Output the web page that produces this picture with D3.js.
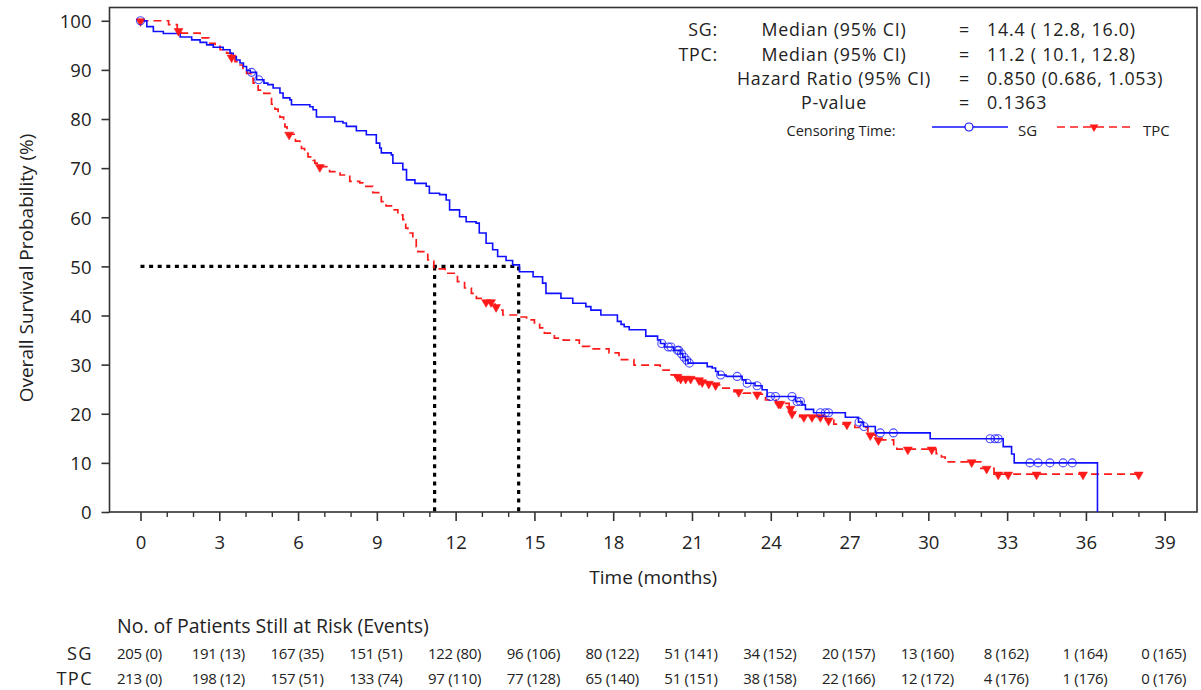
<!DOCTYPE html>
<html>
<head>
<meta charset="utf-8">
<script src="https://cdn.jsdelivr.net/npm/d3@7"></script>
<style>
  html, body { margin: 0; padding: 0; background: #fff; }
  svg { display: block; font-family: "Open Sans", "Noto Sans", sans-serif; }
</style>
</head>
<body>
<svg id="chart" width="1201" height="690"></svg>
<script>
// ---------------- DATA ----------------
const sgTime = [0, 0.24, 0.49, 0.87, 1.51, 1.95, 2.27, 2.52, 2.77, 3.15, 3.41, 3.53, 3.65, 3.79, 3.92, 4.04, 4.18, 4.42, 4.7, 4.85,
  5.05, 5.31, 5.43, 5.69, 5.75, 6.45, 6.57, 6.7, 7.4, 7.71, 7.84, 8.22, 8.6, 8.98, 9.11, 9.17, 9.55, 9.61, 9.99, 10.13,
  10.45, 10.88, 11.0, 11.39, 11.64, 11.77, 12.15, 12.4, 12.78, 12.9, 13.16, 13.41, 13.6, 13.92, 14.17, 14.43, 14.95, 15.31, 15.44, 16.01,
  16.46, 16.96, 17.15, 17.53, 18.16, 18.3, 18.42, 18.61, 19.24, 19.69, 19.8, 19.95, 20.3, 20.55, 20.65, 20.75, 20.85, 21.58, 21.77, 21.9,
  22.0, 22.3, 22.91, 23.05, 23.4, 23.67, 23.86, 24.94, 25.19, 25.32, 25.63, 26.84, 27.34, 27.53, 27.98, 30.07, 32.85, 33.17, 33.27, 36.44];
const sgSurv = [100, 98.8, 97.8, 97.4, 96.7, 96.1, 95.6, 95.1, 94.6, 94.1, 93.4, 92.7, 92.0, 91.4, 90.7, 89.9, 89.5, 88.0, 87.3, 87.0,
  86.3, 85.3, 84.3, 83.9, 82.9, 82.5, 81.9, 80.4, 79.5, 79.2, 78.5, 77.6, 76.8, 75.1, 74.1, 73.1, 72.7, 71.0, 69.7, 67.6,
  66.9, 66.3, 64.9, 64.6, 63.5, 61.5, 60.1, 59.1, 58.8, 56.8, 54.7, 53.4, 52.0, 51.2, 50.3, 48.9, 47.9, 46.6, 44.5, 43.5,
  42.5, 41.8, 41.1, 40.1, 38.8, 38.2, 37.7, 37.1, 35.8, 35.0, 34.3, 33.6, 32.9, 32.2, 31.5, 30.9, 30.3, 29.6, 29.3, 28.6,
  27.9, 27.6, 26.9, 26.2, 25.7, 24.9, 23.5, 22.5, 21.8, 20.9, 20.2, 19.3, 18.3, 17.4, 16.1, 14.9, 13.3, 11.8, 10.0, 0];
const sgCensor = [0, 4.23, 4.5, 19.85, 20.1, 20.2, 20.45, 20.5, 20.6, 20.7, 20.8, 20.9, 22.09, 22.72, 23.1, 23.48, 23.99, 24.18, 24.81,
  25.0, 25.13, 25.89, 26.08, 26.2, 27.36, 27.55, 28.17, 28.67, 32.35, 32.54, 32.66, 33.87, 34.18, 34.63, 35.13, 35.48];

const tpcTime = [0, 1.07, 1.4, 1.55, 2.27, 2.6, 2.84, 3.03, 3.28, 3.45, 3.6, 3.72, 3.9, 4.04, 4.2, 4.29, 4.48, 4.7, 4.99, 5.12,
  5.24, 5.31, 5.45, 5.5, 5.58, 5.64, 5.9, 6.07, 6.13, 6.25, 6.38, 6.57, 6.64, 6.8, 7.2, 7.6, 7.97, 8.35, 8.47, 8.85,
  9.17, 9.35, 9.61, 9.8, 9.99, 10.1, 10.18, 10.37, 10.5, 10.56, 10.94, 11.17, 11.6, 12.07, 12.34, 12.6, 12.79, 13.1, 13.5, 13.6,
  13.8, 14.43, 14.7, 15.0, 15.2, 15.38, 15.76, 16.1, 16.71, 17.1, 17.84, 18.22, 18.79, 19.79, 20.13, 20.35, 20.5, 21.2, 21.35, 21.6,
  21.85, 22.05, 22.6, 22.95, 23.4, 23.8, 24.2, 24.7, 24.8, 25.1, 26.1, 26.4, 27.2, 27.7, 28.0, 28.68, 28.8, 30.3, 30.5, 30.64,
  32.0, 32.5, 38.01];
const tpcSurv = [100, 99.2, 98.0, 97.5, 96.5, 95.4, 94.8, 94.1, 93.4, 92.6, 91.7, 91.0, 90.0, 89.3, 88.3, 87.3, 85.9, 85.2, 83.0, 82.0,
  81.1, 80.4, 79.2, 78.4, 77.6, 76.9, 75.5, 74.7, 74.0, 73.0, 72.3, 71.6, 71.0, 70.3, 69.3, 68.6, 67.3, 67.0, 66.3, 65.0,
  63.2, 62.3, 61.5, 60.5, 59.5, 57.8, 56.8, 55.4, 54.0, 53.0, 51.3, 49.5, 48.6, 46.9, 45.6, 44.5, 43.5, 42.8, 41.8, 41.1,
  40.1, 39.7, 39.1, 38.5, 37.5, 36.4, 35.4, 35.0, 33.7, 33.2, 32.4, 31.0, 29.9, 28.9, 27.9, 27.6, 27.2, 26.9, 26.5, 26.2,
  25.9, 25.2, 24.5, 24.2, 24.0, 22.8, 22.1, 21.1, 20.1, 19.4, 18.7, 17.9, 17.2, 15.7, 14.7, 13.7, 12.8, 11.9, 11.2, 10.2,
  8.9, 7.7, 7.7];
const tpcCensor = [0, 1.45, 3.47, 5.66, 6.83, 13.16, 13.35, 13.54, 20.45, 20.57, 20.76, 20.95, 21.27, 21.39, 21.64, 21.9, 22.78, 23.48,
  24.3, 24.37, 24.75, 24.81, 25.26, 25.57, 25.89, 26.2, 26.9, 27.79, 28.1, 29.22, 30.13, 31.65, 32.22, 32.66, 33.04, 34.12, 35.89, 38.01];

const medians = [11.2, 14.4];           // TPC, SG median OS (months)
const xTicks = [0, 3, 6, 9, 12, 15, 18, 21, 24, 27, 30, 33, 36, 39];
const yTicks = [0, 10, 20, 30, 40, 50, 60, 70, 80, 90, 100];

const riskTimes = [0, 3, 6, 9, 12, 15, 18, 21, 24, 27, 30, 33, 36, 39];
const sgAtRisk = [205, 191, 167, 151, 122, 96, 80, 51, 34, 20, 13, 8, 1, 0];
const sgEvents = [0, 13, 35, 51, 80, 106, 122, 141, 152, 157, 160, 162, 164, 165];
const tpcAtRisk = [213, 198, 157, 133, 97, 77, 65, 51, 38, 22, 12, 4, 1, 0];
const tpcEvents = [0, 12, 51, 74, 110, 128, 140, 151, 158, 166, 172, 176, 176, 176];

const statLabels = ["SG:", "TPC:", "", ""];
const statNames = ["Median (95% CI)", "Median (95% CI)", "Hazard Ratio (95% CI)", "P-value"];
const statValues = ["14.4 ( 12.8, 16.0)", "11.2 ( 10.1, 12.8)", "0.850 (0.686, 1.053)", "0.1363"];

// ---------------- LAYOUT ----------------
const BLUE = "#1010ff", RED = "#ff1a1a", INK = "#222";
const svg = d3.select("#chart");
const L = 109.5, R = 1197, T = 7.5, B = 512;
const x = d3.scaleLinear().domain([-1.18, 40.23]).range([L, R]);
const y = d3.scaleLinear().domain([0, 102.7]).range([B, T]);

const g = svg.append("g");

// Frame
g.append("rect").attr("x", L).attr("y", T).attr("width", R - L).attr("height", B - T)
  .attr("fill", "none").attr("stroke", "#333").attr("stroke-width", 1.6);

// X axis major
const xAxis = g.append("g").attr("transform", `translate(0,${B})`)
  .call(d3.axisBottom(x).tickValues(xTicks).tickSize(9).tickSizeOuter(0).tickFormat(d3.format("d")));
xAxis.select(".domain").remove();
xAxis.selectAll("line").attr("stroke", "#333").attr("stroke-width", 1.6);
xAxis.selectAll("text").attr("y", 37).attr("dy", null).attr("fill", INK)
  .style("font-size", "18.5px").style("font-family", "'Open Sans', sans-serif");
// X axis minor
const minor = d3.range(0, 40, 1).filter(d => d % 3 !== 0);
const xMinor = g.append("g").attr("transform", `translate(0,${B})`)
  .call(d3.axisBottom(x).tickValues(minor).tickSize(5).tickSizeOuter(0).tickFormat(""));
xMinor.select(".domain").remove();
xMinor.selectAll("line").attr("stroke", "#333").attr("stroke-width", 1.4);

// Y axis
const yAxis = g.append("g").attr("transform", `translate(${L},0)`)
  .call(d3.axisLeft(y).tickValues(yTicks).tickSize(8).tickSizeOuter(0).tickFormat(d3.format("d")));
yAxis.select(".domain").remove();
yAxis.selectAll("line").attr("stroke", "#333").attr("stroke-width", 1.6);
yAxis.selectAll("text").attr("x", -18).attr("dy", "0.37em").attr("fill", INK)
  .style("font-size", "18.5px").style("font-family", "'Open Sans', sans-serif");

// Axis titles
g.append("text").attr("x", (L + R) / 2).attr("y", 584).attr("text-anchor", "middle")
  .attr("fill", INK).style("font-size", "19px").text("Time (months)");
g.append("text").attr("transform", `translate(33,${268}) rotate(-90)`).attr("text-anchor", "middle")
  .attr("fill", INK).style("font-size", "19px").text("Overall Survival Probability (%)");

// Median reference lines
const dotted = { stroke: "#000", "stroke-width": 3.2, "stroke-dasharray": "4,4.6" };
function applyAttrs(sel, a) { Object.entries(a).forEach(([k, v]) => sel.attr(k, v)); return sel; }
applyAttrs(g.append("line").attr("x1", x(0)).attr("x2", x(d3.max(medians))).attr("y1", y(50)).attr("y2", y(50)), dotted);
medians.forEach(m => {
  applyAttrs(g.append("line").attr("x1", x(m)).attr("x2", x(m)).attr("y1", y(50)).attr("y2", y(0)), dotted);
});

// Step curves
const stepLine = d3.line().x(d => x(d[0])).y(d => y(d[1])).curve(d3.curveStepAfter);
const sgData = sgTime.map((t, i) => [t, sgSurv[i]]);
const tpcData = tpcTime.map((t, i) => [t, tpcSurv[i]]);

g.append("path").datum(tpcData).attr("d", stepLine).attr("fill", "none")
  .attr("stroke", RED).attr("stroke-width", 1.7).attr("stroke-dasharray", "8,5");
g.append("path").datum(sgData).attr("d", stepLine).attr("fill", "none")
  .attr("stroke", BLUE).attr("stroke-width", 1.6);

// survival value at a time (step function)
function survAt(times, surv, t) {
  const i = d3.bisectRight(times, t) - 1;
  return surv[Math.max(0, i)];
}

// Censor markers
const tri = d3.symbol().type(d3.symbolTriangle).size(34);
g.append("g").selectAll("path").data(tpcCensor).join("path")
  .attr("d", tri)
  .attr("transform", d => `translate(${x(d)},${y(survAt(tpcTime, tpcSurv, d)) + 0.5}) rotate(180)`)
  .attr("fill", RED).attr("stroke", RED).attr("stroke-width", 0.6);
g.append("g").selectAll("circle").data(sgCensor).join("circle")
  .attr("cx", d => x(d)).attr("cy", d => y(survAt(sgTime, sgSurv, d)))
  .attr("r", 4).attr("fill", "none").attr("stroke", BLUE).attr("stroke-opacity", 0.75).attr("stroke-width", 1.1);

// Statistics box
const statG = g.append("g").attr("fill", INK).style("font-size", "17.8px").style("letter-spacing", "0.8px");
const rowY = [36, 60.5, 85, 109];
statNames.forEach((n, i) => {
  if (statLabels[i]) statG.append("text").attr("x", 718).attr("y", rowY[i]).attr("text-anchor", "end").text(statLabels[i]);
  statG.append("text").attr("x", 834).attr("y", rowY[i]).attr("text-anchor", "middle").text(n);
  statG.append("text").attr("x", 959).attr("y", rowY[i]).text("=");
  statG.append("text").attr("x", 987).attr("y", rowY[i]).text(statValues[i]);
});

// Censoring legend
const legY = 127;
g.append("text").attr("x", 841).attr("y", 136).attr("text-anchor", "middle").attr("fill", INK)
  .style("font-size", "14.5px").text("Censoring Time:");
g.append("line").attr("x1", 932).attr("x2", 1008).attr("y1", legY).attr("y2", legY)
  .attr("stroke", BLUE).attr("stroke-width", 1.6);
g.append("circle").attr("cx", 969).attr("cy", legY).attr("r", 4).attr("fill", "#fff")
  .attr("stroke", BLUE).attr("stroke-width", 1.2);
g.append("text").attr("x", 1018).attr("y", 136).attr("fill", INK).style("font-size", "15px").text("SG");
g.append("line").attr("x1", 1057).attr("x2", 1134).attr("y1", legY).attr("y2", legY)
  .attr("stroke", RED).attr("stroke-width", 1.7).attr("stroke-dasharray", "8,5");
g.append("path").attr("d", tri).attr("transform", `translate(1094,${legY}) rotate(180)`).attr("fill", RED);
g.append("text").attr("x", 1143).attr("y", 136).attr("fill", INK).style("font-size", "15px").text("TPC");

// Risk table
g.append("text").attr("x", 117).attr("y", 633).attr("fill", INK).style("font-size", "19.5px")
  .text("No. of Patients Still at Risk (Events)");
const rows = [
  { label: "SG", atRisk: sgAtRisk, events: sgEvents, y: 659 },
  { label: "TPC", atRisk: tpcAtRisk, events: tpcEvents, y: 684 }
];
rows.forEach(r => {
  g.append("text").attr("x", 93).attr("y", r.y + 1).attr("text-anchor", "end").attr("fill", INK)
    .style("font-size", "18.2px").style("letter-spacing", "1.4px").text(r.label);
  g.append("g").selectAll("text").data(riskTimes).join("text")
    .attr("x", d => x(d) - 1).attr("y", r.y).attr("text-anchor", "middle").attr("fill", INK)
    .style("font-size", "15px").style("letter-spacing", "-0.3px")
    .text((d, i) => `${r.atRisk[i]} (${r.events[i]})`);
});
</script>
</body>
</html>
